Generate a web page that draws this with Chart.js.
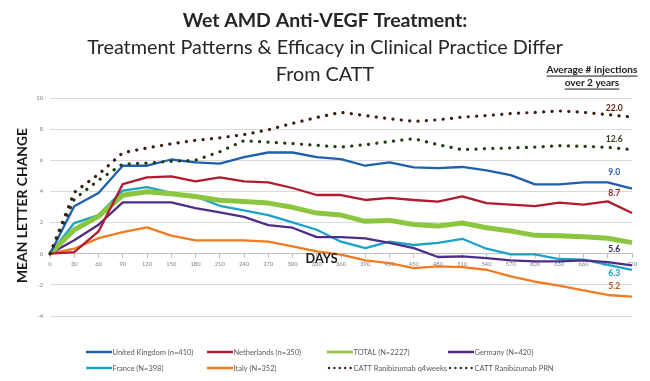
<!DOCTYPE html>
<html>
<head>
<meta charset="utf-8">
<script src="https://cdn.jsdelivr.net/npm/chart.js@4.4.1/dist/chart.umd.min.js"></script>
<style>
  html, body { margin: 0; padding: 0; background: #ffffff; }
  #wrap { width: 650px; height: 381px; }
</style>
</head>
<body>
<div id="wrap"><canvas id="c" width="650" height="381"></canvas></div>
<script>
// ---------- DATA ----------
const days = ['0','30','60','90','120','150','180','210','240','270','300','330','360','390','420','450','480','510','540','570','600','630','660','690','720'];
const yTicks = [10, 8, 6, 4, 2, 0, -2, -4];

const unitedKingdom = [0,3.05,3.9,5.65,5.65,6.05,5.87,5.78,6.2,6.5,6.5,6.2,6.08,5.65,5.87,5.55,5.5,5.57,5.35,5.05,4.45,4.45,4.58,4.58,4.18];
const netherlands   = [0,0.1,1.43,4.47,4.9,4.97,4.65,4.9,4.65,4.58,4.22,3.77,3.77,3.45,3.58,3.45,3.34,3.68,3.25,3.15,3.06,3.28,3.15,3.36,2.61];
const totalAll      = [0,1.54,2.4,3.75,3.98,3.85,3.68,3.43,3.36,3.25,2.98,2.61,2.48,2.08,2.14,1.88,1.78,1.97,1.67,1.46,1.18,1.16,1.09,0.99,0.71];
const germany       = [0,0.86,1.86,3.3,3.3,3.3,2.93,2.66,2.36,1.84,1.67,1.07,1.07,0.99,0.69,0.36,-0.21,-0.17,-0.28,-0.43,-0.49,-0.49,-0.43,-0.54,-0.75];
const france        = [0,1.97,2.48,4.05,4.28,3.9,3.68,3.08,2.78,2.48,2.01,1.54,0.77,0.36,0.77,0.56,0.69,0.96,0.32,-0.04,-0.04,-0.34,-0.38,-0.71,-1.03];
const italy         = [0,0.32,1.0,1.39,1.69,1.16,0.86,0.86,0.86,0.77,0.47,0.15,-0.06,-0.43,-0.6,-0.92,-0.81,-0.86,-1.03,-1.46,-1.8,-2.05,-2.35,-2.65,-2.75];
const cattQ4weeks   = [0,3.94,5.1,6.48,6.79,7.06,7.28,7.44,7.65,7.96,8.37,8.75,9.08,8.87,8.67,8.5,8.6,8.77,8.87,9.0,9.08,9.17,9.08,8.93,8.77];
const cattPRN       = [0,3.5,4.72,5.76,5.82,5.93,6.0,6.55,7.26,7.17,7.07,6.96,6.85,7.0,7.2,7.39,7.0,6.68,6.75,6.79,6.85,6.94,6.9,6.83,6.68];

const seriesNames = ['United Kingdom (n=410)','Netherlands (n=350)','TOTAL (N=2227)','Germany (N=420)','France (N=398)','Italy (N=352)','CATT Ranibizumab q4weeks','CATT Ranibizumab PRN'];
const injectionLabels = ['22.0','12.6','9.0','8.7','5.6','6.3','5.2'];

const titleLines = ['Wet AMD Anti-VEGF Treatment:', 'Treatment Patterns & Efficacy in Clinical Practice Differ', 'From CATT'];
const injectionsHeader = ['Average # injections', 'over 2 years'];
const yTitle = 'MEAN LETTER CHANGE';
const xTitle = 'DAYS';

// ---------- STYLE HELPERS ----------
const FAMILY = 'Lato, "Open Sans", "Liberation Sans", sans-serif';
const mctx = document.createElement('canvas').getContext('2d');
function fitSize(text, weight, width) {
  mctx.font = weight + ' 100px ' + FAMILY;
  return 100 * width / mctx.measureText(text).width;
}
const sz = {
  t1: fitSize(titleLines[0], 'bold', 285),
  t2: fitSize(titleLines[1], 'normal', 476),
  yT: fitSize(yTitle, 'bold', 155),
  leg: fitSize(seriesNames[0], 'normal', 81),
  hdr: fitSize(injectionsHeader[0], 'bold', 91),
  inj: fitSize('22.0', 'bold', 17),
  days: fitSize(xTitle, 'bold', 32),
  tick: fitSize('120', 'normal', 10)
};

const colors = {
  uk: '#1f5fae', nl: '#b01c2e', total: '#8cc63e', de: '#4f2d86',
  fr: '#1ba3c6', it: '#f47a20', q4: '#3b1c10', prn: '#1f3b12'
};

function lineDs(label, data, color, width, dotted) {
  return {
    label, data,
    borderColor: color, backgroundColor: color,
    borderWidth: width,
    borderDash: dotted ? [0.1, 8.3] : [],
    borderCapStyle: dotted ? 'round' : 'butt',
    borderJoinStyle: 'round',
    pointRadius: 0, tension: 0, fill: false
  };
}

const datasets = [
  lineDs(seriesNames[6], cattQ4weeks, colors.q4, 3.2, true),
  lineDs(seriesNames[7], cattPRN, colors.prn, 3.2, true),
  lineDs(seriesNames[0], unitedKingdom, colors.uk, 2.3, false),
  lineDs(seriesNames[1], netherlands, colors.nl, 2.3, false),
  lineDs(seriesNames[2], totalAll, colors.total, 5, false),
  lineDs(seriesNames[3], germany, colors.de, 2.3, false),
  lineDs(seriesNames[4], france, colors.fr, 2.3, false),
  lineDs(seriesNames[5], italy, colors.it, 2.3, false)
];

// ---------- CUSTOM TEXT / LEGEND PLUGIN ----------
const decorPlugin = {
  id: 'decor',
  afterDraw(chart) {
    const ctx = chart.ctx;
    const xs = chart.scales.x, ys = chart.scales.y;
    ctx.save();
    ctx.textAlign = 'center';
    ctx.textBaseline = 'middle';
    // Titles
    ctx.fillStyle = '#262626';
    ctx.font = 'bold ' + sz.t1 + 'px ' + FAMILY;
    ctx.fillText(titleLines[0], 325, 21);
    ctx.font = 'normal ' + sz.t2 + 'px ' + FAMILY;
    ctx.fillText(titleLines[1], 325, 48);
    ctx.fillText(titleLines[2], 325, 75);

    // Injections header (underlined)
    ctx.fillStyle = '#1a1a1a';
    ctx.font = 'bold ' + sz.hdr + 'px ' + FAMILY;
    [[injectionsHeader[0], 70], [injectionsHeader[1], 83]].forEach(([t, y]) => {
      ctx.fillText(t, 592, y);
      const w = ctx.measureText(t).width;
      ctx.fillRect(592 - w / 2, y + sz.hdr * 0.55, w, 1);
    });

    // Y title
    ctx.save();
    ctx.translate(23, 205.5);
    ctx.rotate(-Math.PI / 2);
    ctx.fillStyle = '#1a1a1a';
    ctx.font = 'bold ' + sz.yT + 'px ' + FAMILY;
    ctx.fillText(yTitle, 0, 0);
    ctx.restore();

    // DAYS label
    ctx.fillStyle = '#1a1a1a';
    ctx.font = 'bold ' + sz.days + 'px ' + FAMILY;
    ctx.fillText(xTitle, xs.getPixelForValue(11.2), ys.getPixelForValue(-0.33));

    // Average injection labels at right
    const injColors = ['#5c1f0f', '#2c3b1b', '#2f5da0', '#8d1b1b', '#29264a', '#1b9cc0', '#b3561b'];
    const injY = [9.36, 7.33, 5.21, 3.86, 0.28, -1.28, -2.07];
    ctx.font = 'bold ' + sz.inj + 'px ' + FAMILY;
    injectionLabels.forEach((t, i) => {
      ctx.fillStyle = injColors[i];
      ctx.fillText(t, xs.getPixelForValue(23.27), ys.getPixelForValue(injY[i]));
    });

    // Legend (grid layout like the reference)
    const order = [2, 3, 4, 5, 6, 7, 0, 1];
    const colX = [86, 207, 327, 448];
    const rowY = [352, 368];
    ctx.font = 'normal ' + sz.leg + 'px ' + FAMILY;
    ctx.textAlign = 'left';
    order.forEach((di, k) => {
      const ds = chart.data.datasets[di];
      const x = colX[k % 4], y = rowY[Math.floor(k / 4)];
      const dotted = ds.borderDash.length > 0;
      ctx.save();
      ctx.strokeStyle = ds.borderColor;
      if (dotted) {
        ctx.fillStyle = ds.borderColor;
        for (let j = 0; j < 5; j++) {
          ctx.beginPath();
          ctx.arc(x + 2 + j * 5.4, y, 1.2, 0, Math.PI * 2);
          ctx.fill();
        }
      } else {
        ctx.lineWidth = 2.5;
        ctx.beginPath();
        ctx.moveTo(x, y);
        ctx.lineTo(x + 26, y);
        ctx.stroke();
      }
      ctx.restore();
      ctx.fillStyle = '#595959';
      ctx.fillText(ds.label, x + 26.5, y + 0.5);
    });
    ctx.restore();
  }
};

const bgPlugin = {
  id: 'bg',
  beforeDraw(chart) {
    const c = chart.ctx;
    c.save();
    c.fillStyle = '#ffffff';
    c.fillRect(0, 0, chart.width, chart.height);
    c.restore();
  }
};

new Chart(document.getElementById('c'), {
  type: 'line',
  data: { labels: days, datasets },
  plugins: [bgPlugin, decorPlugin],
  options: {
    responsive: false,
    animation: false,
    devicePixelRatio: 1,
    layout: { padding: { top: 98, left: 0, right: 18, bottom: 65 } },
    plugins: { legend: { display: false }, title: { display: false }, tooltip: { enabled: false } },
    scales: {
      x: {
        type: 'category',
        position: { y: 0 },
        offset: false,
        grid: { display: true, drawOnChartArea: false, drawTicks: true, tickLength: 4, color: '#bfbfbf', lineWidth: 1 },
        border: { display: true, color: '#bfbfbf', width: 1 },
        ticks: { autoSkip: false, maxRotation: 0, minRotation: 0, padding: 3, color: '#7f7f7f', font: { family: FAMILY, size: sz.tick } }
      },
      y: {
        min: -4, max: 10,
        afterBuildTicks: (s) => { s.ticks = yTicks.map(v => ({ value: v })); },
        afterFit: (s) => { s.width = 50; },
        grid: { color: '#d9d9d9', lineWidth: 1, drawTicks: false },
        border: { display: false },
        ticks: { padding: 7, color: '#7f7f7f', font: { family: FAMILY, size: sz.tick } }
      }
    }
  }
});
</script>
</body>
</html>
